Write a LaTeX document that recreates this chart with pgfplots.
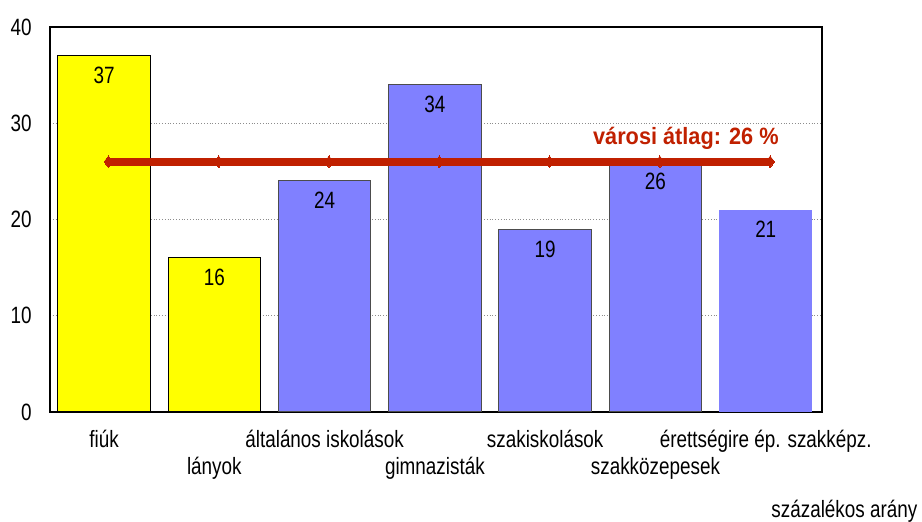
\documentclass[border=0pt]{standalone}
\usepackage{fontspec}
\setmainfont{Liberation Sans}[FakeStretch=0.80]
\newfontfamily\redfont{Liberation Sans}[FakeStretch=0.92]
\usepackage{pgfplots}
\pgfplotsset{compat=1.18}
\definecolor{barblue}{RGB}{128,128,255}
\definecolor{baryellow}{RGB}{255,255,0}
\definecolor{avgred}{RGB}{192,32,0}
\begin{document}
\fontsize{11.8pt}{13.5pt}\selectfont
\begin{tikzpicture}
\useasboundingbox (-25pt,-55pt) rectangle (436pt,206pt);
\begin{axis}[
 at={(0,0)}, anchor=south west,
 scale only axis, width=386pt, height=192.5pt,
 xmin=-0.49, xmax=6.51, ymin=0, ymax=40,
 ytick={0,10,20,30,40},
 xtick={0,...,6},
 xticklabels={{\strut fiúk},{\strut\\lányok},{\strut általános iskolások},{\strut\\gimnazisták},{\strut szakiskolások},{\strut\\szakközepesek},{\strut érettségire ép. szakképz.}},
 xticklabel style={align=center, anchor=north, yshift=-4pt},
 major tick length=0pt,
 ymajorgrids, grid style={gray!90, densely dotted, line width=0.5pt},
 axis line style={line width=0.75pt},
 /pgf/number format/assume math mode=true,
 yticklabel style={xshift=-5pt},
 clip=false,
]
\addplot[ybar, bar width=0.84, fill=baryellow, draw=black, line width=0.5pt,
  nodes near coords, nodes near coords style={anchor=base, yshift=-14pt, text=black}]
  coordinates {(0,37) (1,16)};
\addplot[ybar, bar width=0.84, fill=barblue, draw=black!70, line width=0.5pt,
  nodes near coords, nodes near coords style={anchor=base, yshift=-14pt, text=black}]
  coordinates {(2,24) (3,34) (4,19) (5,26)};
\addplot[ybar, bar width=0.84, fill=barblue, draw=none,
  nodes near coords, nodes near coords style={anchor=base, yshift=-14pt, text=black}]
  coordinates {(6,21)};
\addplot[avgred, line width=4pt, mark=diamond*, mark size=2.9pt,
  mark options={line width=0pt, fill=avgred, draw=avgred}]
  coordinates {(0.04,26) (1.04,26) (2.04,26) (3.04,26) (4.04,26) (5.04,26) (6.04,26)};
\node[anchor=base east, inner sep=0pt, text=avgred, font=\redfont\bfseries] at (axis cs:6.12,27.74) {városi átlag: 26 \%};
\node[anchor=base east, inner sep=0pt] at (rel axis cs:1.124,-0.273) {százalékos arány};
\end{axis}
\end{tikzpicture}
\end{document}
